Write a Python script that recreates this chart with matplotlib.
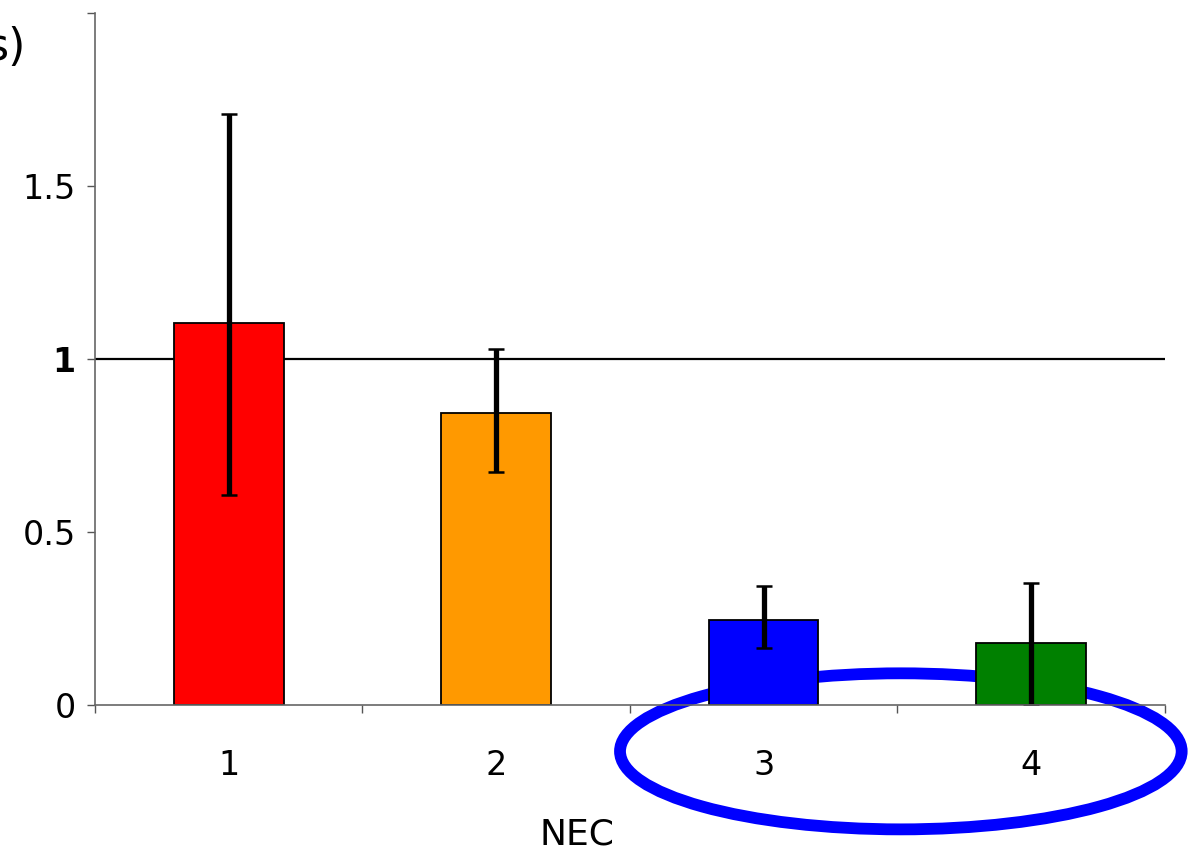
import numpy as np
import matplotlib.pyplot as plt
from matplotlib.patches import Ellipse

# NEC groups, mean values and asymmetric error ranges
groups = ['1', '2', '3', '4']
means = [1.103, 0.845, 0.247, 0.178]
err_low = [0.497, 0.173, 0.083, 0.178]
err_high = [0.604, 0.184, 0.098, 0.175]
colors = ['#FF0000', '#FF9900', '#0000FF', '#008000']

fig = plt.figure(figsize=(11.92, 8.65), dpi=100)
ax = fig.add_axes([0.0797, 0.185, 0.8975, 0.8])

x = np.arange(1, len(groups) + 1)

# highlight ring around groups 3 and 4 (drawn behind the bars)
ring = Ellipse((3.513, -0.134), 2.10, 0.451, fill=False, edgecolor='#0000FF',
               lw=8.5, clip_on=False, zorder=1)
ax.add_patch(ring)

ax.bar(x, means, width=0.41, color=colors, edgecolor='black', lw=1.3, zorder=3)
ax.errorbar(x, means, yerr=[err_low, err_high], fmt='none', ecolor='black',
            elinewidth=3.8, capsize=6, capthick=1.8, zorder=4)

# reference line at 1
ax.axhline(1, color='black', lw=1.6, zorder=2)

ax.set_xlim(0.5, 4.5)
ax.set_ylim(0, 2)

ax.set_yticks([0, 0.5, 1, 1.5, 2])
ax.set_yticklabels(['0', '0.5', '1', '1.5', ''])
ax.get_yticklabels()[2].set_fontweight('bold')
ax.set_xticks(x)
ax.set_xticklabels(groups)
ax.set_xticks(np.arange(0.5, 4.6, 1), minor=True)
ax.tick_params(axis='x', which='major', length=0, pad=32, labelsize=24)
ax.tick_params(axis='x', which='minor', length=6, color='#555555', width=1)
ax.tick_params(axis='y', length=6, color='#555555', width=1, labelsize=24, pad=8)

for side in ['top', 'right']:
    ax.spines[side].set_visible(False)
for side in ['left', 'bottom']:
    ax.spines[side].set_color('#666666')
    ax.spines[side].set_linewidth(1.2)
    ax.spines[side].set_zorder(5)

ax.set_xlabel('NEC', fontsize=26)
ax.xaxis.set_label_coords(0.451, -0.162)
fig.text(0.022, 0.945, 's)', fontsize=32, ha='right', va='center')

fig.savefig('out.png', dpi=100)
